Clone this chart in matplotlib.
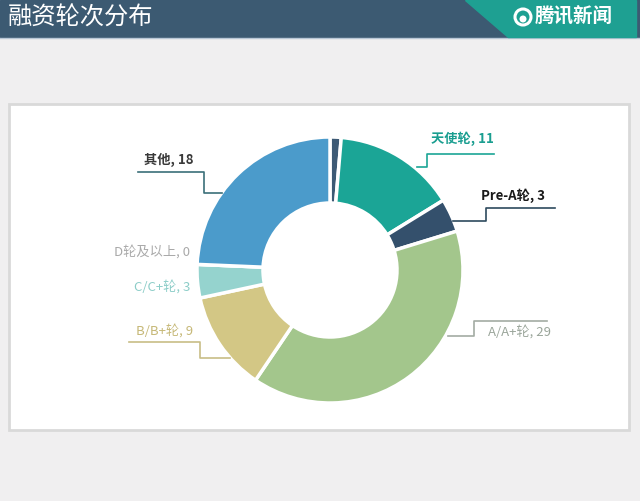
import matplotlib
matplotlib.use('Agg')
import matplotlib.pyplot as plt
from matplotlib.patches import Rectangle, Polygon, Circle

plt.rcParams['font.family'] = ['Noto Sans CJK SC', 'DejaVu Sans']

# data
rounds = ['', '天使轮', 'Pre-A轮', 'A/A+轮', 'B/B+轮', 'C/C+轮', 'D轮及以上', '其他']
counts = [1, 11, 3, 29, 9, 3, 0, 18]   # first one is the small unlabeled sliver at the top
colors = ['#3d5a75', '#1ba596', '#34506c', '#a3c68c', '#d3c785', '#95d3ce', '#cccccc', '#4b9bcb']

# label layout (pixel coords, y from top): text x, text y, text colour, bold, leader line
label_layout = {
    '天使轮': (431, 139, '#1a9e90', True, [(494, 154), (427, 154), (427, 167), (417, 167)], '#1ba596'),
    'Pre-A轮': (481, 196, '#1a1a1a', True, [(555, 208), (486, 208), (486, 221), (453, 221)], '#2e4a5e'),
    'A/A+轮': (488, 332, '#9aa59a', False, [(547, 321), (474, 321), (474, 336), (448, 336)], '#a3aba3'),
    'B/B+轮': (136, 331, '#c6b877', False, [(129, 342), (200, 342), (200, 358), (230, 358)], '#c8bd86'),
    'C/C+轮': (134, 287, '#8ccdc8', False, None, None),
    'D轮及以上': (114, 252, '#a9a9a9', False, None, None),
    '其他': (144, 160, '#3a3a3a', True, [(138, 172), (204, 172), (204, 193), (222, 193)], '#3b6f79'),
}

W, H = 640, 501
def Y(y):
    return H - y  # pixel row -> data y

fig = plt.figure(figsize=(6.4, 5.01), dpi=100)
fig.patch.set_facecolor('#f0eff0')
ax = fig.add_axes([0, 0, 1, 1])
ax.set_xlim(0, W)
ax.set_ylim(0, H)
ax.axis('off')

# header bar
ax.add_patch(Rectangle((0, Y(37)), W, 37, color='#3c5a72', zorder=1))
ax.plot([0, W], [Y(37.5), Y(37.5)], color='#b9c7d6', lw=1, zorder=2)
ax.add_patch(Polygon([(465, Y(0)), (636, Y(0)), (636, Y(37)), (508, Y(37))],
                     closed=True, color='#1ea092', zorder=2))
ax.text(8, Y(18), '融资轮次分布', color='white', fontsize=17.5, va='center', ha='left', zorder=3)
# logo
ax.add_patch(Circle((523, Y(17)), 8, facecolor='none', edgecolor='white', lw=2.2, zorder=3))
ax.add_patch(Circle((523, Y(19)), 3.5, facecolor='white', edgecolor='none', zorder=3))
ax.text(535, Y(17), '腾讯新闻', color='white', fontsize=14, fontweight='bold',
        va='center', ha='left', zorder=3)

# white panel
ax.add_patch(Rectangle((9, Y(430)), 620, 326, facecolor='white', edgecolor='#d9d9d9', lw=2, zorder=1))

# donut
wedges, _ = ax.pie(counts, colors=colors, startangle=90, counterclock=False,
                   center=(330, Y(270)), radius=133, frame=True,
                   wedgeprops=dict(width=66, edgecolor='white', linewidth=2.5))
for w in wedges:
    w.set_zorder(4)
ax.set_xlim(0, W)
ax.set_ylim(0, H)
ax.set_aspect('auto')
ax.axis('off')

# labels
for name, val in zip(rounds, counts):
    if name not in label_layout:
        continue
    tx, ty, tc, bold, line, lc = label_layout[name]
    ax.text(tx, Y(ty), f'{name}, {val}', color=tc, fontsize=9.5,
            fontweight='bold' if bold else 'normal', va='center', ha='left', zorder=5)
    if line:
        ax.plot([p[0] for p in line], [Y(p[1]) for p in line], color=lc, lw=1.2, zorder=5)

plt.savefig('out.png', dpi=100, facecolor=fig.get_facecolor())
